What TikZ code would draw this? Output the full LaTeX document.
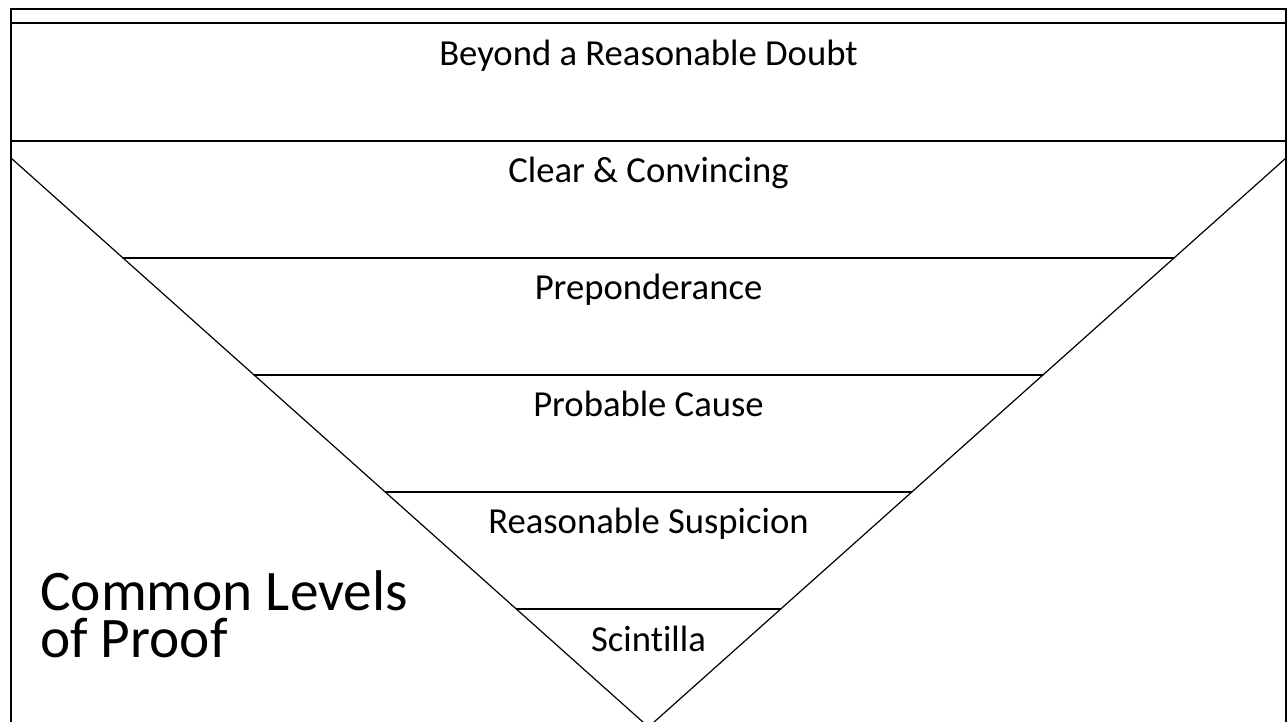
\documentclass[tikz,border=0pt]{standalone}
\usepackage{fontspec}
\setmainfont{Carlito}[Ligatures=NoCommon]
\usetikzlibrary{calc}
\begin{document}
\begin{tikzpicture}[x=0.75pt,y=-0.75pt,
  frameline/.style={customcolor0,line width=1.9pt},
  levelline/.style={customcolor0,line width=0.9pt,line cap=round},
  levellabel/.style={customcolor0,anchor=base,inner sep=0pt,font=\fontsize{27.5}{33}\selectfont},
  titlelabel/.style={customcolor0,anchor=base west,inner sep=0pt,align=left,font=\fontsize{43}{35}\selectfont}]
\definecolor{customcolor0}{HTML}{000000}
\definecolor{customcolor1}{HTML}{FFFFFF}
\clip (0,0) rectangle (1287,721);
\fill[customcolor1] (0,0) rectangle (1287,721);
\coordinate (tl) at (11,158);
\coordinate (tr) at (1286,158);
\coordinate (ap) at (648.5,727);
\draw[frameline] (11,740) -- (11,9) -- (1286,9) -- (1286,740);
\draw[levelline] (11,23) -- (1286,23);
\draw[levelline] (11,141) -- (1286,141);
\draw[levelline] (tl) -- (ap) -- (tr);
\draw[levelline] ($(tl)!0.1757!(ap)$) -- ($(tr)!0.1757!(ap)$);
\draw[levelline] ($(tl)!0.3814!(ap)$) -- ($(tr)!0.3814!(ap)$);
\draw[levelline] ($(tl)!0.5870!(ap)$) -- ($(tr)!0.5870!(ap)$);
\draw[levelline] ($(tl)!0.7926!(ap)$) -- ($(tr)!0.7926!(ap)$);
\node[levellabel] (beyond) at (648.5,65) {Beyond a Reasonable Doubt};
\node[levellabel] (clear) at (648.5,182) {Clear \& Convincing};
\node[levellabel] (prepond) at (648.5,299) {Preponderance};
\node[levellabel] (probable) at (648.5,416) {Probable Cause};
\node[levellabel] (suspicion) at (648.5,533) {Reasonable Suspicion};
\node[levellabel] (scintilla) at (648.5,651) {Scintilla};
\node[titlelabel] (title) at (40,657) {Common Levels\\of Proof};
\end{tikzpicture}
\end{document}
